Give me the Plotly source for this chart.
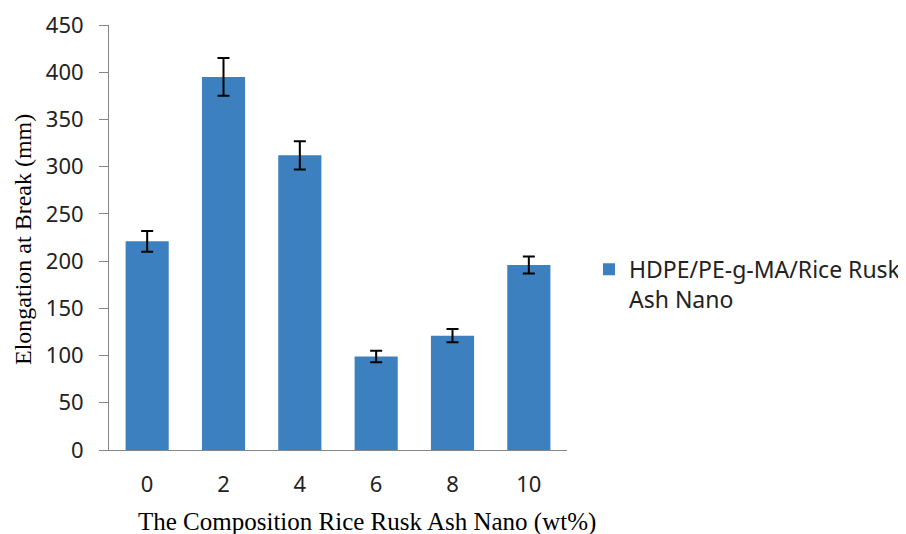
import plotly.graph_objects as go

categories = ["0", "2", "4", "6", "8", "10"]
elongation = [221, 395, 312, 99, 121, 196]
errors = [11, 20, 15, 6, 7, 9]
series_name = "HDPE/PE-g-MA/Rice Rusk<br>Ash Nano"
y_ticks = [0, 50, 100, 150, 200, 250, 300, 350, 400, 450]

fig = go.Figure()
fig.add_trace(go.Bar(
    x=categories, y=elongation, name=series_name,
    marker=dict(color="#3C80C0", line=dict(width=0)),
    error_y=dict(type="data", array=errors, visible=True,
                 color="black", thickness=2, width=6),
    showlegend=True,
))

fig.update_layout(
    width=898, height=526,
    margin=dict(l=101, r=339, t=17, b=84, autoexpand=False),
    paper_bgcolor="white", plot_bgcolor="white",
    bargap=0.435,
    showlegend=True,
    legend=dict(x=1.048, y=0.39, xanchor="left", yanchor="middle",
                valign="top",
                font=dict(family="Noto Sans", size=23, color="#222"),
                bgcolor="rgba(0,0,0,0)"),
    xaxis=dict(type="category", showline=True, linecolor="#868686", linewidth=1,
               ticks="", showgrid=False, zeroline=False, automargin=False,
               tickfont=dict(family="Noto Sans", size=22, color="#222"),
               ticklabelstandoff=15),
    yaxis=dict(range=[0, 450], tickvals=y_ticks, showline=True,
               linecolor="#868686", linewidth=1, ticks="outside", ticklen=9,
               tickcolor="#868686", showgrid=False, zeroline=False, automargin=False,
               tickfont=dict(family="Noto Sans", size=22, color="#222"),
               ticklabelstandoff=11),
    annotations=[
        dict(text="The Composition Rice Rusk Ash Nano (wt%)", xref="paper", yref="paper",
             x=(367 - 109) / 458, y=-(522 - 450) / 425, xanchor="center", yanchor="middle",
             showarrow=False, font=dict(family="Liberation Serif", size=25, color="black")),
        dict(text="Elongation at Break (mm)", xref="paper", yref="paper",
             x=-(109 - 23) / 458, y=(450 - 240) / 425, xanchor="center", yanchor="middle",
             textangle=-90, showarrow=False,
             font=dict(family="Liberation Serif", size=24, color="black")),
    ],
)

fig.write_html("out.html")
